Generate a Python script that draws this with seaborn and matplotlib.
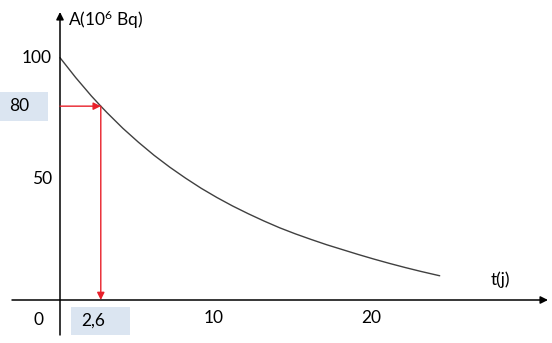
import matplotlib
matplotlib.use("Agg")
import matplotlib.pyplot as plt
import matplotlib.transforms as mtransforms
from matplotlib.patches import Rectangle
import seaborn as sns
import pandas as pd

# ---------------- data ----------------
t_days = [0, 1, 2, 2.6, 3, 4, 5, 6, 7, 8, 9, 10, 11, 12, 13, 14, 15, 16, 17,
          18, 19, 20, 21, 22, 23, 24, 24.2]
activity = [100, 91.8, 84.2, 80, 77.3, 70.9, 65.1, 59.7, 54.8, 50.3, 46.1, 42.3,
            38.8, 35.6, 32.6, 29.8, 27.3, 25.0, 22.8, 20.8, 18.8, 16.9, 15.1,
            13.4, 11.8, 10.3, 10.0]
y_ticks = [100, 50]
y_tick_labels = ["100", "50"]
x_ticks = [10, 20]
x_tick_labels = ["10", "20"]
origin_label = "0"
mark_t, mark_t_label = 2.6, "2,6"
mark_a, mark_a_label = 80, "80"
y_axis_label = "A(10$^{6}$ Bq)"
x_axis_label = "t(j)"

# ---------------- style ----------------
sns.set_theme(style="white")
plt.rcParams["font.family"] = ["Lato", "DejaVu Sans"]
plt.rcParams["mathtext.fontset"] = "custom"
plt.rcParams["mathtext.rm"] = "Lato"
plt.rcParams["mathtext.default"] = "regular"

W, H, DPI = 552, 343, 100
fig = plt.figure(figsize=(W / DPI, H / DPI), dpi=DPI)
fig.patch.set_facecolor("white")
ax = fig.add_axes([0, 0, 1, 1])
ax.set_facecolor("white")

# pixel mapping: origin at (60, 300) px, 15.69 px/day, 2.423 px/unit
px0, py0, sx, sy = 60, 300, 15.69, 2.423
ax.set_xlim(-px0 / sx, (W - px0) / sx)
ax.set_ylim(-(H - py0) / sy, py0 / sy)
ax.set_axis_off()

FS = 12.5
box_color = "#dbe5f1"
red = "#e8202a"

# axes with arrows
ax.annotate("", xy=((548 - px0) / sx, 0), xytext=((12 - px0) / sx, 0),
            arrowprops=dict(arrowstyle="-|>", color="black", lw=1.1,
                            mutation_scale=11, shrinkA=0, shrinkB=0))
ax.annotate("", xy=(0, (py0 - 12) / sy), xytext=(0, (py0 - 335) / sy),
            arrowprops=dict(arrowstyle="-|>", color="black", lw=1.1,
                            mutation_scale=11, shrinkA=0, shrinkB=0))

# decay curve
df = pd.DataFrame({"t": t_days, "A": activity})
sns.lineplot(data=df, x="t", y="A", ax=ax, color="#404040", lw=1.0,
             sort=False, estimator=None)

# red guide arrows
ax.annotate("", xy=(mark_t, mark_a), xytext=(0, mark_a),
            arrowprops=dict(arrowstyle="-|>", color=red, lw=1.0,
                            mutation_scale=11, shrinkA=0, shrinkB=0))
ax.annotate("", xy=(mark_t, 0), xytext=(mark_t, mark_a),
            arrowprops=dict(arrowstyle="-|>", color=red, lw=1.0,
                            mutation_scale=11, shrinkA=0, shrinkB=0))

# highlight boxes
blend = mtransforms.blended_transform_factory(ax.transAxes, ax.transData)
ax.add_patch(Rectangle((0, mark_a - 14.5 / sy), 48 / W, 29 / sy,
                       transform=blend, facecolor=box_color, edgecolor="none",
                       zorder=0))
ax.add_patch(Rectangle((mark_t - 29.5 / sx, -35 / sy), 59 / sx, 28 / sy,
                       facecolor=box_color, edgecolor="none", zorder=0))

# y tick labels
for v, lab in zip(y_ticks, y_tick_labels):
    ax.annotate(lab, xy=(0, v), xytext=(-8, 0), textcoords="offset pixels",
                ha="right", va="center", fontsize=FS, color="black")
ax.annotate(mark_a_label, xy=(0, mark_a), xytext=(-41, 0),
            textcoords="offset pixels", ha="center", va="center",
            fontsize=FS, color="black")

# x tick labels
for v, lab in zip(x_ticks, x_tick_labels):
    ax.annotate(lab, xy=(v, 0), xytext=(-3, -18), textcoords="offset pixels",
                ha="center", va="center", fontsize=FS, color="black")
ax.annotate(mark_t_label, xy=(mark_t, 0), xytext=(-8, -21),
            textcoords="offset pixels", ha="center", va="center",
            fontsize=FS, color="black")
ax.annotate(origin_label, xy=(0, 0), xytext=(-22, -20),
            textcoords="offset pixels", ha="center", va="center",
            fontsize=FS, color="black")

# axis labels
ax.annotate(y_axis_label, xy=(0, (py0 - 20) / sy), xytext=(8, 0),
            textcoords="offset pixels", ha="left", va="center",
            fontsize=FS, color="black")
ax.annotate(x_axis_label, xy=((500 - px0) / sx, 0), xytext=(0, 20),
            textcoords="offset pixels", ha="center", va="center",
            fontsize=FS, color="black")

fig.savefig("out.png", dpi=DPI, facecolor="white")
